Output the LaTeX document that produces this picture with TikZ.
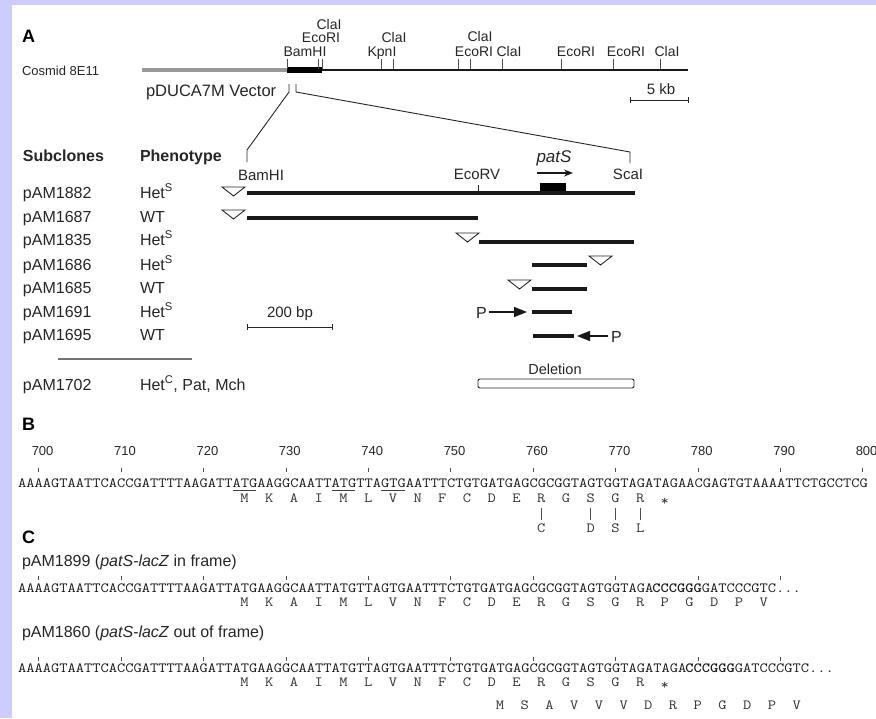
\documentclass[tikz,border=0pt]{standalone}
\usepackage{fontspec}
\setmainfont{Liberation Sans}
\usetikzlibrary{arrows.meta}
\definecolor{lav}{RGB}{204,204,255}
\newcommand\fsz[1]{\fontsize{#1}{#1}\selectfont}
\newcommand\sq[1]{\scalebox{1.1444}[1]{\fsz{14}\ttfamily #1}}
\newcommand\sqb[1]{\scalebox{1.1211}[1]{\fsz{14}\ttfamily\bfseries #1}}
\newcommand\seqx{18}
\newcommand\seqw{8.24}
\newcommand\tridown[4]{\draw[tri] (#2,#4) -- (#3,#4) -- ({(#2+#3)/2},{#4+9}) -- cycle coordinate (#1) at ({(#2+#3)/2},#4);}
\begin{document}
\begin{tikzpicture}[x=1pt,y=-1pt,
  lbl/.style={inner sep=0pt,outer sep=0pt,text=black!85,font=\fsz{16},anchor=base west},
  site/.style={inner sep=0pt,outer sep=0pt,text=black!85,font=\fsz{14},anchor=base},
  big/.style={inner sep=0pt,outer sep=0pt,font=\fsz{18}\bfseries,anchor=base west},
  bar/.style={line width=4pt,black!90},
  tri/.style={draw=black!85,line width=0.9pt,line join=miter},
  thin/.style={line width=0.9pt,black!85},
  seqn/.style={inner sep=0pt,outer sep=0pt,anchor=base west,text=black!90},
  aan/.style={inner sep=0pt,outer sep=0pt,anchor=base,text=black!80},
  tk/.style={line width=0.6pt,black!70},
  parrow/.style={line width=1.2pt,black!90,-{Triangle[length=13pt,width=10pt]}},
]
\useasboundingbox (0,0) rectangle (876,718);
\clip (0,0) rectangle (876,718);
\fill[lav] (0,0) rectangle (876,718);
\fill[white] (12,5) rectangle (876,718);

% ---------------- Panel A, top
\node[big] (labA) at (22,42) {A};
\node[lbl,font=\fsz{13}] (cosmid) at (22,75) {Cosmid 8E11};
\node[lbl,font=\fsz{16.5}] (vector) at (146,96) {pDUCA7M Vector};
\draw[line width=4pt,black!40] (142,70) -- (287,70);
\draw[line width=1.6pt,black!90] (287,70) -- (688,70);
\draw[line width=5.5pt,black] (287,70) -- (322,70);
\foreach \x in {287,318,322,381,393,458,470,502,561,613,660}
  \draw[tk,line width=0.7pt] (\x,59) -- (\x,69);
\node[site] (s1) at (305,56) {BamHI};
\node[site] (s2) at (321,42.5) {EcoRI};
\node[site] (s3) at (329,29) {ClaI};
\node[site] (s4) at (382,56) {KpnI};
\node[site] (s5) at (394,42) {ClaI};
\node[site] (s6) at (480,41) {ClaI};
\node[site] (s7) at (474,56) {EcoRI};
\node[site] (s8) at (509,56) {ClaI};
\node[site] (s9) at (576,56) {EcoRI};
\node[site] (s10) at (626,56) {EcoRI};
\node[site] (s11) at (667,56) {ClaI};
% 5 kb scale
\node[site,font=\fsz{15}] (kb) at (661,94) {5 kb};
\coordinate (kbL) at (630,100);
\coordinate (kbR) at (688,100);
\draw[thin] (kbL) -- (kbR);
\draw[thin] (630,97) -- (630,103);
\draw[thin] (688,97) -- (688,103);
% expansion lines
\coordinate (eL) at (289,84);
\coordinate (eR) at (296,84);
\coordinate (bam) at (247,150);
\coordinate (sca) at (630,152);
\draw[thin] (eL) -- (289,92) -- (bam) -- (247,162);
\draw[thin] (eR) -- (296,92) -- (sca) -- (630,163);

% ---------------- Panel A, subclones
\node[lbl,font=\fsz{16}\bfseries] (hsub) at (23,161) {Subclones};
\node[lbl,font=\fsz{16}\bfseries] (hphen) at (140,161) {Phenotype};
\node[lbl] (c1) at (23,198) {pAM1882}; \node[lbl] (p1) at (140,198) {Het\textsuperscript{S}};
\node[lbl] (c2) at (23,222) {pAM1687}; \node[lbl] (p2) at (140,222) {WT};
\node[lbl] (c3) at (23,245) {pAM1835}; \node[lbl] (p3) at (140,245) {Het\textsuperscript{S}};
\node[lbl] (c4) at (23,270) {pAM1686}; \node[lbl] (p4) at (140,270) {Het\textsuperscript{S}};
\node[lbl] (c5) at (23,293) {pAM1685}; \node[lbl] (p5) at (140,293) {WT};
\node[lbl] (c6) at (23,317) {pAM1691}; \node[lbl] (p6) at (140,317) {Het\textsuperscript{S}};
\node[lbl] (c7) at (23,340) {pAM1695}; \node[lbl] (p7) at (140,340) {WT};
\draw[line width=1.2pt,black!55] (58,359) -- (192,359);
\node[lbl] (c8) at (23,390) {pAM1702}; \node[lbl] (p8) at (140,390) {Het\textsuperscript{C}, Pat, Mch};

% map labels
\node[site,font=\fsz{15}] (lbam) at (261,180) {BamHI};
\node[site,font=\fsz{15}] (leco) at (477,179) {EcoRV};
\node[site,font=\fsz{15}] (lsca) at (628,179) {ScaI};
\node[site,font=\fsz{17}\itshape] (lpat) at (554,162) {patS};
\draw[line width=1.5pt,black!90,-{Stealth[length=9pt,width=7pt]}] (537,173) -- (573,173);
\fill[black] (540,183) rectangle (566,192);
\draw[thin] (478,185) -- (478,191);

% subclone bars
\draw[bar] (247,193) -- (635,193);
\tridown{t1}{222}{245}{187}
\tridown{t2}{222}{245}{210}
\draw[bar] (247,218) -- (478,218);
\tridown{t3}{456}{479}{233}
\draw[bar] (479,242) -- (634,242);
\draw[bar] (532,265) -- (587,265);
\tridown{t4}{589}{612}{256}
\tridown{t5}{508}{531}{280}
\draw[bar] (532,289) -- (587,289);
\node[lbl,font=\fsz{16}] (P1) at (476,318) {P};
\draw[parrow] (489,312) -- (527,312);
\draw[bar] (532,312) -- (572,312);
\draw[bar] (533,336) -- (574,336);
\draw[parrow] (608,336) -- (577,336);
\node[lbl,font=\fsz{16}] (P2) at (611,342) {P};

% 200 bp scale
\node[site,font=\fsz{15}] (bp) at (290,317) {200 bp};
\draw[thin] (247,327) -- (332,327);
\draw[thin] (247,324) -- (247,330);
\draw[thin] (332,324) -- (332,330);

% deletion
\node[site,font=\fsz{14.5}] (del) at (555,374) {Deletion};
\draw[line width=0.9pt,black!85,rounded corners=2pt] (478,379) rectangle (634,388);

% ---------------- Panel B
\node[big] (labB) at (22,430) {B};
\foreach \k in {0,...,10} {
  \draw[tk] ({\seqx+(2.5+10*\k)*\seqw},468) -- ++(0,4);
  \node[site,font=\fsz{13}] (num\k) at ({\seqx+(2.5+10*\k)*\seqw+4},455) {\the\numexpr700+10*\k\relax};
}
\node[seqn] (bseq) at (\seqx,487) {\sq{AAAAGTAATTCACCGATTTTAAGATTATGAAGGCAATTATGTTAGTGAATTTCTGTGATGAGCGCGGTAGTGGTAGATAGAACGAGTGTAAAATTCTGCCTCG}};
\foreach \a/\b in {26/29,38/41,44/47}
  \draw[line width=0.6pt,black!75] ({\seqx+\a*\seqw+0.5},490) -- ({\seqx+\b*\seqw-0.5},490);
\foreach \a [count=\i from 0] in {M,K,A,I,M,L,V,N,F,C,D,E,R,G,S,G,R}
  \node[aan] (ba\i) at ({\seqx+(27.5+3*\i)*\seqw},502) {\sq{\a}};
\node[aan] (bstop) at ({\seqx+(27.5+3*17)*\seqw},505) {\sq{*}};
\foreach \i/\s in {12/C,14/D,15/S,16/L} {
  \draw[line width=0.6pt,black!70] ({\seqx+(27.5+3*\i)*\seqw},508) -- ({\seqx+(27.5+3*\i)*\seqw},520);
  \node[aan] (bs\i) at ({\seqx+(27.5+3*\i)*\seqw},532) {\sq{\s}};
}

% ---------------- Panel C
\node[big] (labC) at (22,543) {C};
\node[lbl] (f1) at (22,566) {pAM1899 (\textit{patS-lacZ} in frame)};
\foreach \k in {0,...,9}
  \draw[tk] ({\seqx+(2.5+10*\k)*\seqw},576) -- ++(0,4);
\node[seqn] (c1a) at (\seqx,592) {\sq{AAAAGTAATTCACCGATTTTAAGATTATGAAGGCAATTATGTTAGTGAATTTCTGTGATGAGCGCGGTAGTGGTAGA}};
\node[seqn] (c1b) at ({\seqx+77*\seqw},592) {\sqb{CCCGGG}};
\node[seqn] (c1c) at ({\seqx+83*\seqw},592) {\sq{GATCCCGTC...}};
\foreach \a [count=\i from 0] in {M,K,A,I,M,L,V,N,F,C,D,E,R,G,S,G,R,P,G,D,P,V}
  \node[aan] (ca\i) at ({\seqx+(27.5+3*\i)*\seqw},606) {\sq{\a}};

\node[lbl] (f2) at (22,637) {pAM1860 (\textit{patS-lacZ} out of frame)};
\foreach \k in {0,...,9}
  \draw[tk] ({\seqx+(2.5+10*\k)*\seqw},657) -- ++(0,4);
\node[seqn] (c2a) at (\seqx,672) {\sq{AAAAGTAATTCACCGATTTTAAGATTATGAAGGCAATTATGTTAGTGAATTTCTGTGATGAGCGCGGTAGTGGTAGATAGA}};
\node[seqn] (c2b) at ({\seqx+81*\seqw},672) {\sqb{CCCGGG}};
\node[seqn] (c2c) at ({\seqx+87*\seqw},672) {\sq{GATCCCGTC...}};
\foreach \a [count=\i from 0] in {M,K,A,I,M,L,V,N,F,C,D,E,R,G,S,G,R}
  \node[aan] (da\i) at ({\seqx+(27.5+3*\i)*\seqw},686) {\sq{\a}};
\node[aan] (dstop) at ({\seqx+(27.5+3*17)*\seqw},689) {\sq{*}};
\foreach \a [count=\i from 0] in {M,S,A,V,V,V,D,R,P,G,D,P,V}
  \node[aan] (ea\i) at ({\seqx+(58.5+3*\i)*\seqw},709) {\sq{\a}};
\end{tikzpicture}
\end{document}
